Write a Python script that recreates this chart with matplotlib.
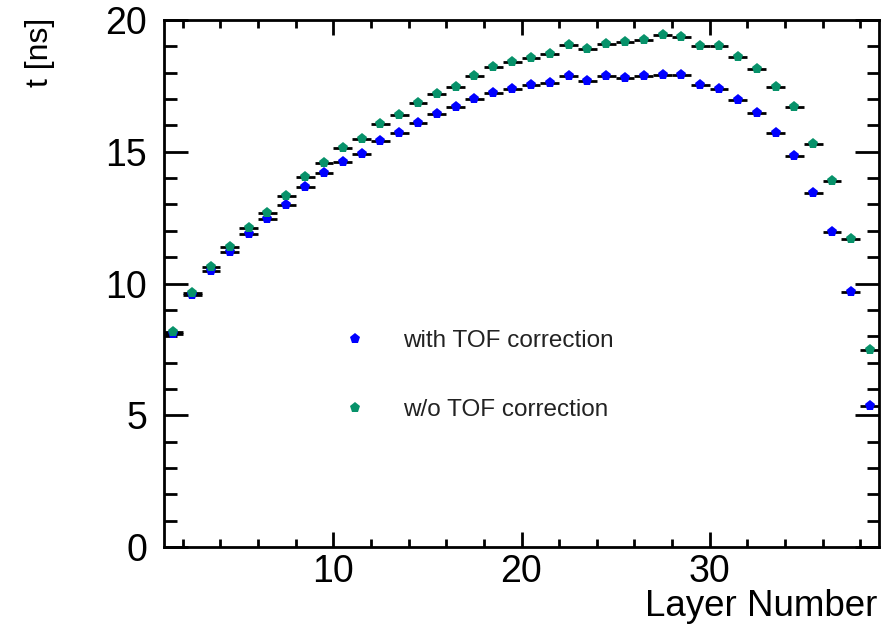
import matplotlib
matplotlib.use("Agg")
import matplotlib.pyplot as plt
import numpy as np
from matplotlib.ticker import MultipleLocator
from matplotlib.lines import Line2D

plt.rcParams['font.family'] = ['Liberation Sans', 'DejaVu Sans']

layers = list(range(1, 39))
t_with_tof = [8.10, 9.56, 10.49, 11.18, 11.87, 12.44, 12.98, 13.65, 14.18, 14.60,
              14.91, 15.42, 15.72, 16.10, 16.44, 16.69, 17.01, 17.22, 17.37, 17.53,
              17.60, 17.87, 17.70, 17.87, 17.79, 17.87, 17.92, 17.92, 17.53, 17.40,
              16.96, 16.46, 15.70, 14.85, 13.42, 11.94, 9.67, 5.36]
t_without_tof = [8.15, 9.65, 10.64, 11.37, 12.12, 12.69, 13.32, 14.05, 14.58, 15.15,
                 15.48, 16.04, 16.39, 16.86, 17.20, 17.47, 17.87, 18.23, 18.41, 18.57,
                 18.70, 19.04, 18.90, 19.09, 19.15, 19.25, 19.43, 19.36, 19.01, 19.01,
                 18.61, 18.15, 17.47, 16.69, 15.29, 13.89, 11.68, 7.48]
labels = ["with TOF correction", "w/o TOF correction"]
colors = ["#0000ff", "#07926a"]

fig = plt.figure(figsize=(8.91, 6.24), dpi=100)
ax = fig.add_axes([164/891, 1-547/624, (879-164)/891, (547-20)/624])

x = np.array(layers) + 0.5
for ys, c in zip([t_with_tof, t_without_tof], colors):
    ax.errorbar(x, ys, xerr=0.5, fmt='p', color=c, ecolor='black',
                elinewidth=2.0, capsize=0, markersize=8, markeredgewidth=0)

ax.set_xlim(1, 39)
ax.set_ylim(0, 20)
ax.xaxis.set_major_locator(MultipleLocator(10))
ax.xaxis.set_minor_locator(MultipleLocator(2))
ax.yaxis.set_major_locator(MultipleLocator(5))
ax.yaxis.set_minor_locator(MultipleLocator(1))
for s in ax.spines.values():
    s.set_linewidth(2.0)
ax.tick_params(axis='x', which='major', direction='in', length=11, width=2,
               top=True, labelsize=27, pad=5)
ax.tick_params(axis='x', which='minor', direction='in', length=6, width=2, top=True)
ax.tick_params(axis='y', which='major', direction='in', length=17, width=2,
               right=True, labelsize=27, pad=12)
ax.tick_params(axis='y', which='minor', direction='in', length=9, width=2, right=True)

fig.text(877/891, 1-616/624, "Layer Number", ha='right', va='baseline', fontsize=26.5)
fig.text(40/891, 1-18/624, "t [ns]", ha='center', va='top', rotation=90, fontsize=23)

handles = [Line2D([], [], marker='p', linestyle='none', color=c, markersize=8,
                  markeredgewidth=0) for c in colors]
leg = ax.legend(handles, labels, loc='upper left', bbox_to_anchor=(343/891, 1-330/624),
                bbox_transform=fig.transFigure, frameon=False, fontsize=17.5,
                handlelength=1.0, handletextpad=1.45, labelspacing=1.95,
                borderpad=0, borderaxespad=0)
for t in leg.get_texts():
    t.set_color('#222222')

fig.savefig("out.png", dpi=100)
